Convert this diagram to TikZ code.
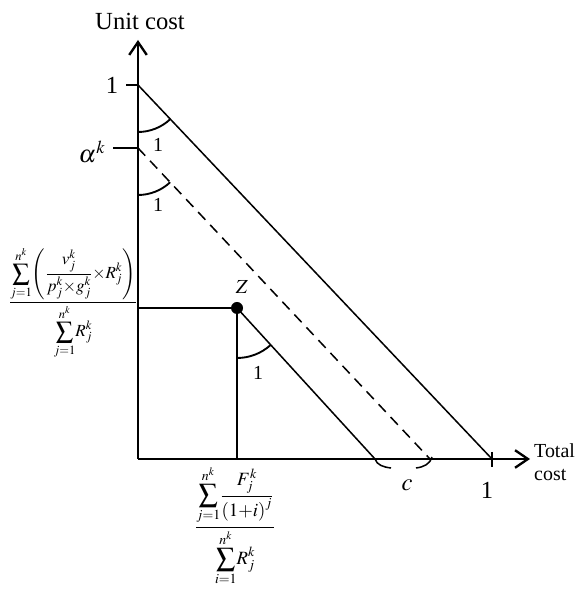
\documentclass[tikz,border=0pt]{standalone}
\usepackage{amsmath}
\usepackage{mathptmx}
\usepackage{fontspec}
\setmainfont{Liberation Serif}
\usetikzlibrary{arrows.meta, calc}

\newcommand{\tightmath}{\thinmuskip=1mu\medmuskip=0mu\thickmuskip=1mu}

\begin{document}
\begin{tikzpicture}[
  x=0.03cm, y=0.03cm,
  axis/.style={line width=2.4pt,
               -{Straight Barb[length=11pt, width=15pt, line width=2pt]}},
  costline/.style={line width=1.3pt},
  guide/.style={line width=1.8pt},
  anglearc/.style={line width=1.6pt},
  lbl/.style={font=\fontsize{21}{24}\selectfont, inner sep=0pt},
  small/.style={font=\fontsize{17}{20}\selectfont, inner sep=0pt},
  formula/.style={font=\fontsize{16}{19}\selectfont\tightmath,
                  inner sep=0pt, anchor=base},
]
  \useasboundingbox (0,0) rectangle (587,589);

  % Key points
  \coordinate (O)     at (138,130);
  \coordinate (ytip)  at (138,549);
  \coordinate (xtip)  at (530,130);
  \coordinate (top)   at (138,504);
  \coordinate (alpha) at (138,441);
  \coordinate (xone)  at (492,130);
  \coordinate (dend)  at (430,130);
  \coordinate (zend)  at (375,130);
  \coordinate (zy)    at (138,281);
  \coordinate (zx)    at (237,130);

  % Axes
  \draw[axis] (O) -- (ytip);
  \draw[axis] (O) -- (xtip);
  \node[lbl] (ylabel) at (140,568) {Unit cost};
  \node[small, anchor=west, align=left] (xlabel) at (534,127)
    {Total\\cost};

  % Ticks
  \draw[line width=2.4pt] (top) -- ++(-12,0);
  \draw[line width=1pt] (alpha) -- ++(-25,0);
  \draw[line width=1.8pt] ($(xone)+(0,7)$) -- ($(xone)+(0,-8)$);
  \node[lbl] (one)    at (112,504) {1};
  \node[lbl] (alab)   at (92,437)  {$\alpha^{k}$};
  \node[lbl] (xonelb) at (487,99)  {1};

  % Cost lines
  \draw[costline] (top) -- (xone);
  \draw[costline, dash pattern=on 9pt off 6pt] (alpha) -- (dend);

  % Point Z
  \node[circle, fill, inner sep=0pt, minimum size=0.36cm] (Z) at (237,281) {};
  \node[small] (zlab) at (242,302) {$Z$};
  \draw[guide] (zy) -- (Z.center);
  \draw[guide] (Z.center) -- (zx);
  \draw[costline] (Z.center) -- (zend);

  % Angle arcs
  \draw[anglearc] (top) ++(270:47) arc[start angle=270, end angle=313.4, radius=47];
  \draw[anglearc] (alpha) ++(270:47) arc[start angle=270, end angle=313.2, radius=47];
  \draw[anglearc] (Z.center) ++(270:50) arc[start angle=270, end angle=312.4, radius=50];
  \node[small] (a1) at (158,444) {1};
  \node[small] (a2) at (158,384) {1};
  \node[small] (a3) at (258,216) {1};

  % Brace c
  \draw[costline] (zend) .. controls (377,124) and (383,122) .. (391,121);
  \draw[costline] (432,132) .. controls (430,125) and (424,122) .. (416,121);
  \node[lbl] (clab) at (407,104) {$c$};

  % Coordinate formulas
  \node[formula, font=\fontsize{14.5}{17}\selectfont\tightmath] (ufrac) at (73,282)
    {$\displaystyle\frac{\displaystyle\sum_{j=1}^{n^k}\!\left(\frac{v_j^k}{p_j^k\times g_j^k}\times R_j^k\right)}{\displaystyle\sum_{j=1}^{n^k}\!R_j^k}$};
  \node[formula] (tfrac) at (235,57)
    {$\displaystyle\frac{\displaystyle\sum_{j=1}^{n^k}\!\frac{F_j^k}{\left(1+i\right)^j}}{\displaystyle\sum_{i=1}^{n^k}\!R_j^k}$};

\end{tikzpicture}
\end{document}
